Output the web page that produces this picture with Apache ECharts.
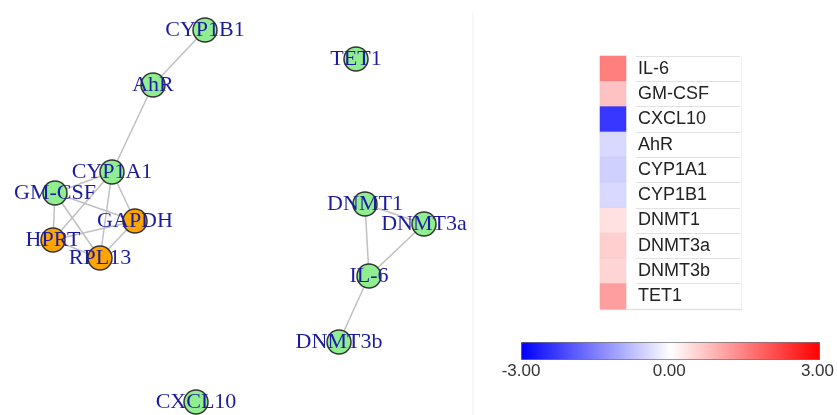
<!DOCTYPE html>
<html>
<head>
<meta charset="utf-8">
<script src="https://cdn.jsdelivr.net/npm/echarts@6/dist/echarts.min.js"></script>
<style>html,body{margin:0;padding:0;background:#fff;}#c{width:837px;height:415px;}</style>
</head>
<body>
<div id="c"></div>
<script>
// Network nodes (layout positions)
var nodeNames = ['CYP1B1','AhR','CYP1A1','GM-CSF','GAPDH','HPRT','RPL13','TET1','DNMT1','DNMT3a','IL-6','DNMT3b','CXCL10'];
var nodeX     = [205, 153, 112, 55, 135, 53, 100, 356, 365, 424, 369, 339, 196];
var nodeY     = [30, 85, 172, 193, 221, 240, 258, 59, 204, 224, 276, 342, 402];
var referenceGenes = ['GAPDH','HPRT','RPL13'];
var linkSource = ['CYP1B1','AhR','CYP1A1','CYP1A1','CYP1A1','CYP1A1','GM-CSF','GM-CSF','GM-CSF','GAPDH','GAPDH','HPRT','DNMT1','DNMT1','DNMT3a','IL-6'];
var linkTarget = ['AhR','CYP1A1','GM-CSF','GAPDH','RPL13','HPRT','GAPDH','HPRT','RPL13','HPRT','RPL13','RPL13','DNMT3a','IL-6','IL-6','DNMT3b'];

// Expression legend (heat column)
var genes = ['IL-6','GM-CSF','CXCL10','AhR','CYP1A1','CYP1B1','DNMT1','DNMT3a','DNMT3b','TET1'];
var geneValues = [1.52, 0.72, -2.35, -0.45, -0.55, -0.45, 0.35, 0.58, 0.5, 1.14];
var scaleMin = -3, scaleMax = 3;

var nodes = nodeNames.map(function (n, i) {
  return {
    name: n,
    value: [nodeX[i], nodeY[i]],
    itemStyle: { color: referenceGenes.indexOf(n) >= 0 ? '#FFA500' : '#90EE90' }
  };
});
var links = linkSource.map(function (s, i) { return { source: s, target: linkTarget[i] }; });
var heatData = genes.map(function (g, i) { return [0, i, geneValues[i]]; });

var chart = echarts.init(document.getElementById('c'));
chart.setOption({
  animation: false,
  backgroundColor: '#fff',
  graphic: [
    { type: 'line', shape: { x1: 473, y1: 12, x2: 473, y2: 415 },
      style: { stroke: '#efefef', lineWidth: 1 }, silent: true },
    { type: 'line', shape: { x1: 741.5, y1: 56, x2: 741.5, y2: 309 },
      style: { stroke: '#f2f2f2', lineWidth: 1 }, silent: true },
    { type: 'line', shape: { x1: 600, y1: 309.5, x2: 742, y2: 309.5 },
      style: { stroke: '#e4e4e4', lineWidth: 1.5 }, silent: true }
  ],
  grid: [
    { left: 0, top: 0, width: 837, height: 415 },
    { left: 600, top: 56, width: 26, height: 253 },
    { left: 521, top: 342, width: 298, height: 17 },
    { left: 636, top: 56, width: 104, height: 253 }
  ],
  xAxis: [
    { gridIndex: 0, type: 'value', min: 0, max: 837, show: false },
    { gridIndex: 1, type: 'category', data: ['v'], show: false },
    { gridIndex: 2, type: 'value', min: scaleMin, max: scaleMax, interval: 3,
      axisLine: { show: false }, axisTick: { show: false }, splitLine: { show: false },
      axisLabel: { margin: 4, fontSize: 17, color: '#333', fontFamily: 'Liberation Sans',
        formatter: function (v) { return v.toFixed(2); } } },
    { gridIndex: 3, type: 'category', data: ['v'], show: false }
  ],
  yAxis: [
    { gridIndex: 0, type: 'value', min: 0, max: 415, inverse: true, show: false },
    { gridIndex: 1, type: 'category', data: genes, inverse: true, position: 'right',
      axisLine: { show: false }, axisTick: { show: false }, splitLine: { show: false },
      axisLabel: { margin: 12, fontSize: 18, color: '#222', fontFamily: 'Liberation Sans', align: 'left' } },
    { gridIndex: 2, type: 'value', show: false },
    { gridIndex: 3, type: 'category', data: genes, inverse: true,
      axisLine: { show: false }, axisTick: { show: false }, axisLabel: { show: false },
      splitLine: { show: true, lineStyle: { color: '#e2e2e2', width: 1 } } }
  ],
  visualMap: {
    type: 'continuous', seriesIndex: 1, min: scaleMin, max: scaleMax,
    orient: 'horizontal', left: 521, top: 342, itemWidth: 17, itemHeight: 298,
    calculable: false, padding: 0, borderColor: '#555', borderWidth: 1,
    inRange: { color: ['#0000FF', '#FFFFFF', '#FF0000'] }, hoverLink: false
  },
  series: [
    {
      type: 'graph', coordinateSystem: 'cartesian2d', xAxisIndex: 0, yAxisIndex: 0,
      layout: 'none', symbol: 'circle', symbolSize: 24,
      data: nodes, links: links,
      itemStyle: { borderColor: '#333', borderWidth: 1.5 },
      lineStyle: { color: '#c0c0c0', width: 1.5, opacity: 1, curveness: 0 },
      label: { show: true, position: 'inside', fontFamily: 'Liberation Serif', fontSize: 22, color: '#1c1ca0' },
      emphasis: { disabled: true }
    },
    {
      type: 'heatmap', xAxisIndex: 1, yAxisIndex: 1, data: heatData,
      itemStyle: { borderColor: 'rgba(0,0,0,0.06)', borderWidth: 0.5 },
      emphasis: { disabled: true }
    }
  ]
});
</script>
</body>
</html>
